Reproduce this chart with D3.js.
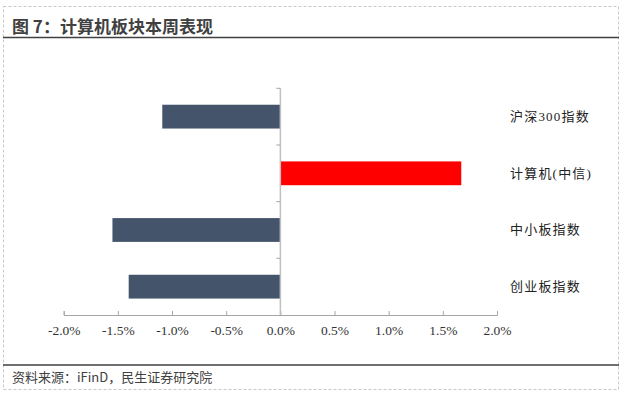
<!DOCTYPE html>
<meta charset="utf-8">
<title>图 7</title>
<style>
  body { margin: 0; background: #fff; }
  svg { display: block; }
</style>
<svg id="chart"></svg>
<script src="https://d3js.org/d3.v7.min.js"></script>
<script>
  // data
  var categories = ['沪深300指数', '计算机(中信)', '中小板指数', '创业板指数'];
  var values = [-1.09, 1.67, -1.55, -1.40];
  var barColors = ['#44546A', '#FF0000', '#44546A', '#44546A'];
  var xTicks = [-0.02, -0.015, -0.01, -0.005, 0, 0.005, 0.01, 0.015, 0.02];

  var width = 621, height = 394;
  var svg = d3.select('#chart').attr('width', width).attr('height', height);

  // frame
  svg.append('rect')
    .attr('x', 3.5).attr('y', 6.5)
    .attr('width', 615).attr('height', 383)
    .attr('fill', 'none')
    .attr('stroke', '#c8c8c8')
    .attr('stroke-dasharray', '3,2');

  svg.append('text')
    .attr('x', 12).attr('y', 33)
    .attr('font-family', '"Noto Sans CJK SC", sans-serif')
    .attr('font-weight', 'bold')
    .attr('font-size', 17)
    .attr('fill', '#404040')
    .text('图 7：计算机板块本周表现');

  svg.append('line')
    .attr('x1', 3).attr('x2', 619)
    .attr('y1', 37.5).attr('y2', 37.5)
    .attr('stroke', '#404040').attr('stroke-width', 1.5);

  svg.append('line')
    .attr('x1', 3).attr('x2', 619)
    .attr('y1', 365).attr('y2', 365)
    .attr('stroke', '#404040').attr('stroke-width', 1.5);

  svg.append('text')
    .attr('x', 12).attr('y', 382)
    .attr('font-family', '"Noto Sans CJK SC", sans-serif')
    .attr('font-size', 13)
    .attr('fill', '#404040')
    .text('资料来源：iFinD，民生证券研究院');

  // scales
  var x = d3.scaleLinear().domain([-0.02, 0.02]).range([63.7, 497]);
  var y = d3.scaleBand().domain(categories).range([88.3, 315]).paddingInner(0.58).paddingOuter(0.29);

  var g = svg.append('g');

  // bars
  g.selectAll('rect.bar')
    .data(values)
    .enter().append('rect')
    .attr('class', 'bar')
    .attr('x', function(d) { return x(Math.min(0, d / 100)); })
    .attr('y', function(d, i) { return y(categories[i]); })
    .attr('width', function(d) { return Math.abs(x(d / 100) - x(0)); })
    .attr('height', y.bandwidth())
    .attr('fill', function(d, i) { return barColors[i]; });

  // x axis
  var pct = d3.format('.1%');
  var xAxis = g.append('g')
    .attr('transform', 'translate(0,315)')
    .call(d3.axisBottom(x).tickValues(xTicks).tickSize(-4).tickPadding(10)
      .tickFormat(function(d) { return pct(d).replace('−', '-'); }));
  xAxis.select('.domain').attr('stroke', '#a6a6a6');
  xAxis.selectAll('.tick line').attr('stroke', '#a6a6a6');
  xAxis.selectAll('.tick text')
    .attr('font-family', '"Liberation Serif", "Times New Roman", serif')
    .attr('font-size', 13.5)
    .attr('fill', '#333');

  // vertical axis at zero
  var step = y.step();
  var bounds = d3.range(categories.length).map(function(i) { return 88.3 + i * step; });
  g.append('line')
    .attr('x1', x(0)).attr('x2', x(0))
    .attr('y1', 88.3).attr('y2', 315)
    .attr('stroke', '#bfbfbf').attr('stroke-width', 1.5);
  g.selectAll('line.ytick')
    .data(bounds)
    .enter().append('line')
    .attr('class', 'ytick')
    .attr('x1', x(0) - 4).attr('x2', x(0))
    .attr('y1', function(d) { return d; }).attr('y2', function(d) { return d; })
    .attr('stroke', '#a6a6a6');

  // category labels on the right
  g.selectAll('text.cat')
    .data(categories)
    .enter().append('text')
    .attr('class', 'cat')
    .attr('x', 510)
    .attr('y', function(d) { return y(d) + y.bandwidth() / 2 + 4.5; })
    .attr('font-family', '"Liberation Serif", "Noto Sans CJK SC", serif')
    .attr('font-size', 13)
    .attr('letter-spacing', 1.2)
    .attr('fill', '#222')
    .text(function(d) { return d; });
</script>
